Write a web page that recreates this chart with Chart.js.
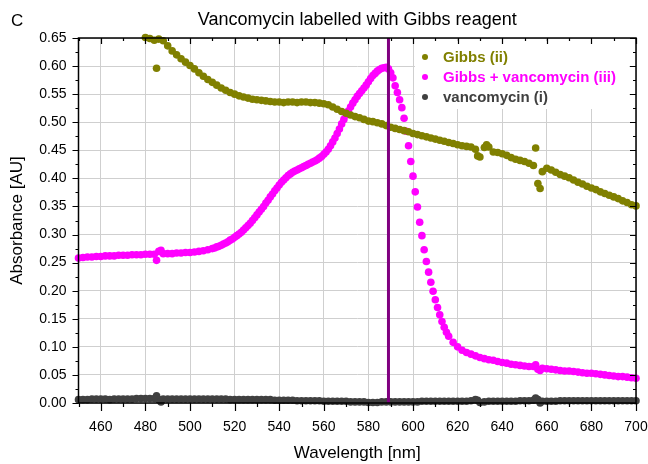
<!DOCTYPE html>
<html>
<head>
<meta charset="utf-8">
<script src="https://cdn.jsdelivr.net/npm/chart.js@4"></script>
<style>
html, body { margin: 0; padding: 0; background: #fff; }
#wrap { width: 648px; height: 464px; }
</style>
</head>
<body>
<div id="wrap"><canvas id="chart"></canvas></div>
<script>
const titleText = "Vancomycin labelled with Gibbs reagent"
const panelLetter = "C"
const xTicks = [460, 480, 500, 520, 540, 560, 580, 600, 620, 640, 660, 680, 700]
const yTicks = [0, 0.05, 0.1, 0.15, 0.2, 0.25, 0.3, 0.35, 0.4, 0.45, 0.5, 0.55, 0.6, 0.65]
const markNm = 589

const gibbsNm = [480, 482, 484, 485, 486, 488, 490, 492, 494, 496, 498, 500, 502, 504, 506, 508, 510, 512, 514, 516, 518, 520, 522, 524, 526, 528, 530, 532, 534, 536, 538, 540, 542, 544, 546, 548, 550, 552, 554, 556, 558, 560, 562, 564, 566, 568, 570, 572, 574, 576, 578, 580, 582, 584, 586, 588, 590, 592, 594, 596, 598, 600, 602, 604, 606, 608, 610, 612, 614, 616, 618, 620, 622, 624, 626, 628, 629, 630, 632, 633, 634, 636, 638, 640, 642, 644, 646, 648, 650, 652, 654, 655, 656, 657, 658, 660, 662, 664, 666, 668, 670, 672, 674, 676, 678, 680, 682, 684, 686, 688, 690, 692, 694, 696, 698, 700]
const gibbsAbs = [0.651, 0.649, 0.646, 0.596, 0.648, 0.645, 0.636, 0.627, 0.620, 0.613, 0.607, 0.601, 0.595, 0.588, 0.582, 0.576, 0.571, 0.566, 0.561, 0.557, 0.553, 0.550, 0.547, 0.545, 0.543, 0.541, 0.540, 0.539, 0.538, 0.537, 0.536, 0.536, 0.535, 0.536, 0.536, 0.535, 0.536, 0.536, 0.535, 0.535, 0.534, 0.533, 0.531, 0.527, 0.523, 0.519, 0.516, 0.513, 0.510, 0.508, 0.505, 0.502, 0.501, 0.499, 0.497, 0.494, 0.491, 0.489, 0.487, 0.485, 0.483, 0.480, 0.478, 0.476, 0.474, 0.472, 0.470, 0.468, 0.466, 0.464, 0.462, 0.460, 0.458, 0.457, 0.456, 0.452, 0.440, 0.438, 0.455, 0.460, 0.456, 0.447, 0.446, 0.444, 0.441, 0.437, 0.434, 0.432, 0.430, 0.427, 0.423, 0.454, 0.391, 0.382, 0.412, 0.418, 0.415, 0.411, 0.407, 0.404, 0.401, 0.397, 0.393, 0.390, 0.386, 0.383, 0.380, 0.376, 0.373, 0.370, 0.367, 0.364, 0.360, 0.357, 0.353, 0.351]

const mixNm = [450, 452, 454, 456, 458, 460, 462, 464, 466, 468, 470, 472, 474, 476, 478, 480, 482, 484, 485, 486, 487, 488, 490, 492, 494, 496, 498, 500, 502, 504, 506, 508, 510, 511, 512, 513, 514, 515, 516, 517, 518, 519, 520, 521, 522, 523, 524, 525, 526, 527, 528, 529, 530, 531, 532, 533, 534, 535, 536, 537, 538, 539, 540, 541, 542, 543, 544, 545, 546, 547, 548, 549, 550, 551, 552, 553, 554, 555, 556, 557, 558, 559, 560, 561, 562, 563, 564, 565, 566, 567, 568, 569, 570, 571, 572, 573, 574, 575, 576, 577, 578, 579, 580, 581, 582, 583, 584, 585, 586, 587, 588, 589, 590, 591, 592, 593, 594, 595, 596, 597, 598, 599, 600, 601, 602, 603, 604, 605, 606, 607, 608, 609, 610, 611, 612, 613, 614, 615, 616, 618, 620, 622, 624, 626, 628, 630, 632, 634, 636, 638, 640, 642, 644, 646, 648, 650, 652, 654, 655, 656, 657, 658, 660, 662, 664, 666, 668, 670, 672, 674, 676, 678, 680, 682, 684, 686, 688, 690, 692, 694, 696, 698, 700]
const mixAbs = [0.258, 0.259, 0.260, 0.260, 0.261, 0.261, 0.262, 0.262, 0.262, 0.263, 0.263, 0.263, 0.264, 0.264, 0.264, 0.265, 0.265, 0.265, 0.254, 0.270, 0.272, 0.266, 0.266, 0.266, 0.267, 0.267, 0.268, 0.268, 0.269, 0.270, 0.271, 0.273, 0.275, 0.276, 0.278, 0.279, 0.281, 0.283, 0.285, 0.287, 0.290, 0.292, 0.295, 0.298, 0.301, 0.304, 0.308, 0.312, 0.316, 0.320, 0.325, 0.330, 0.335, 0.340, 0.345, 0.350, 0.356, 0.361, 0.367, 0.372, 0.378, 0.383, 0.388, 0.393, 0.397, 0.401, 0.405, 0.408, 0.411, 0.413, 0.415, 0.417, 0.419, 0.421, 0.423, 0.425, 0.427, 0.429, 0.431, 0.433, 0.436, 0.439, 0.443, 0.447, 0.452, 0.458, 0.465, 0.472, 0.480, 0.488, 0.497, 0.505, 0.513, 0.520, 0.527, 0.534, 0.540, 0.546, 0.551, 0.556, 0.561, 0.566, 0.572, 0.578, 0.583, 0.587, 0.591, 0.594, 0.596, 0.597, 0.598, 0.595, 0.588, 0.579, 0.565, 0.553, 0.540, 0.526, 0.507, 0.484, 0.458, 0.430, 0.404, 0.376, 0.349, 0.322, 0.298, 0.273, 0.252, 0.233, 0.215, 0.199, 0.184, 0.170, 0.157, 0.145, 0.135, 0.126, 0.119, 0.108, 0.100, 0.094, 0.090, 0.087, 0.084, 0.081, 0.079, 0.077, 0.076, 0.074, 0.072, 0.071, 0.069, 0.068, 0.067, 0.066, 0.065, 0.065, 0.068, 0.060, 0.058, 0.062, 0.061, 0.060, 0.059, 0.058, 0.057, 0.057, 0.056, 0.055, 0.054, 0.053, 0.053, 0.052, 0.051, 0.050, 0.049, 0.048, 0.047, 0.047, 0.046, 0.045, 0.044]

const vancoNm = [450, 452, 454, 456, 458, 460, 462, 464, 466, 468, 470, 472, 474, 476, 478, 480, 482, 484, 485, 486, 487, 488, 490, 492, 494, 496, 498, 500, 502, 504, 506, 508, 510, 512, 514, 516, 518, 520, 522, 524, 526, 528, 530, 532, 534, 536, 538, 540, 542, 544, 546, 548, 550, 552, 554, 556, 558, 560, 562, 564, 566, 568, 570, 572, 574, 576, 578, 580, 582, 584, 586, 588, 590, 592, 594, 596, 598, 600, 602, 604, 606, 608, 610, 612, 614, 616, 618, 620, 622, 624, 626, 628, 629, 630, 632, 634, 636, 638, 640, 642, 644, 646, 648, 650, 652, 654, 655, 656, 657, 658, 660, 662, 664, 666, 668, 670, 672, 674, 676, 678, 680, 682, 684, 686, 688, 690, 692, 694, 696, 698, 700]
const vancoAbs = [0.006, 0.006, 0.006, 0.007, 0.007, 0.007, 0.007, 0.006, 0.007, 0.007, 0.007, 0.007, 0.007, 0.008, 0.008, 0.008, 0.008, 0.008, 0.013, 0.006, 0.002, 0.007, 0.007, 0.007, 0.007, 0.007, 0.007, 0.007, 0.007, 0.007, 0.007, 0.007, 0.007, 0.007, 0.007, 0.007, 0.006, 0.006, 0.006, 0.006, 0.006, 0.006, 0.006, 0.006, 0.006, 0.006, 0.005, 0.005, 0.005, 0.005, 0.005, 0.004, 0.004, 0.004, 0.004, 0.004, 0.004, 0.003, 0.003, 0.003, 0.003, 0.003, 0.003, 0.002, 0.002, 0.002, 0.002, 0.001, 0.001, 0.001, 0.002, 0.002, 0.002, 0.002, 0.002, 0.002, 0.002, 0.002, 0.002, 0.003, 0.003, 0.003, 0.003, 0.003, 0.003, 0.003, 0.003, 0.003, 0.003, 0.003, 0.004, 0.006, 0.005, 0.001, 0.002, 0.003, 0.003, 0.003, 0.003, 0.003, 0.003, 0.003, 0.004, 0.004, 0.004, 0.005, 0.009, 0.006, 0.000, 0.003, 0.003, 0.003, 0.003, 0.004, 0.004, 0.004, 0.004, 0.004, 0.004, 0.004, 0.004, 0.004, 0.004, 0.004, 0.004, 0.004, 0.004, 0.004, 0.004, 0.004, 0.004]

const font = "'Liberation Sans', Arial, sans-serif"

function pts(nm, abs){
	return nm.map((x, i) => ({x: x, y: abs[i]}))
}

function ds(label, color, data){
	return {
		label: label,
		data: data,
		backgroundColor: color,
		borderColor: color,
		pointRadius: 3.8,
		pointBorderWidth: 0,
		showLine: false,
		clip: false
	}
}

const extras = {
	id: "extras",
	beforeDatasetsDraw(chart){
		const c = chart.ctx
		c.save()
		c.fillStyle = "#fff"
		c.fillRect(415, 41, 214, 68)
		c.font = "bold 15px " + font
		c.textBaseline = "middle"
		chart.data.datasets.forEach((d, i) => {
			const y = 57 + i * 20
			c.fillStyle = d.backgroundColor
			c.beginPath()
			c.arc(425, y, 3, 0, Math.PI * 2)
			c.fill()
			c.fillText(d.label, 443, y + 1)
		})
		c.restore()
	},
	afterDatasetsDraw(chart){
		const c = chart.ctx
		const a = chart.chartArea
		const xs = chart.scales.x
		const ys = chart.scales.y
		c.save()
		let mx = xs.getPixelForValue(markNm)
		c.strokeStyle = "#800080"
		c.lineWidth = 3
		c.beginPath()
		c.moveTo(mx, a.top)
		c.lineTo(mx, a.bottom)
		c.stroke()

		c.strokeStyle = "#000"
		c.lineWidth = 1.2
		c.beginPath()
		for(let v = 450; v <= 700; v += 10){
			let p = Math.round(xs.getPixelForValue(v)) + 0.5
			let major = xTicks.includes(v)
			c.moveTo(p, a.bottom); c.lineTo(p, a.bottom + (major ? 8 : 4))
			c.moveTo(p, a.top); c.lineTo(p, a.top + (major ? 6 : 3))
		}
		for(let k = 0; k <= 26; k++){
			let p = Math.round(ys.getPixelForValue(k * 0.025)) + 0.5
			let major = k % 2 == 0
			c.moveTo(a.left, p); c.lineTo(a.left - (major ? 6 : 3), p)
			c.moveTo(a.right, p); c.lineTo(a.right - (major ? 6 : 3), p)
		}
		c.stroke()
		c.lineWidth = 1.5
		c.strokeRect(a.left, a.top, a.right - a.left, a.bottom - a.top)

		c.fillStyle = "#000"
		c.textBaseline = "middle"
		c.font = "17px " + font
		c.textAlign = "left"
		c.fillText(panelLetter, 11, 21)
		c.font = "18px " + font
		c.textAlign = "center"
		c.fillText(titleText, (a.left + a.right) / 2, 20)
		c.restore()
	}
}

new Chart(document.querySelector("#chart"), {
	type: "scatter",
	data: {
		datasets: [
			ds("Gibbs (ii)", "#808000", pts(gibbsNm, gibbsAbs)),
			ds("Gibbs + vancomycin (iii)", "#ff00ff", pts(mixNm, mixAbs)),
			ds("vancomycin (i)", "#404040", pts(vancoNm, vancoAbs))
		]
	},
	options: {
		responsive: true,
		maintainAspectRatio: false,
		animation: false,
		layout: { padding: { left: 7, right: 0, top: 38, bottom: 0 } },
		plugins: {
			legend: { display: false },
			tooltip: { enabled: false }
		},
		scales: {
			x: {
				type: "linear",
				min: 450,
				max: 700,
				afterBuildTicks: s => { s.ticks = xTicks.map(v => ({value: v})) },
				afterFit: s => { s.height = 61; s.paddingLeft = 0; s.paddingRight = 12 },
				border: { display: false },
				grid: { color: "#cfcfcf", lineWidth: 1, drawTicks: false },
				ticks: { color: "#000", font: { family: font, size: 14 }, padding: 16, maxRotation: 0 },
				title: { display: true, text: "Wavelength [nm]", color: "#000", font: { family: font, size: 17 }, padding: { top: 0, bottom: 0 } }
			},
			y: {
				min: 0,
				max: 0.65,
				afterBuildTicks: s => { s.ticks = yTicks.map(v => ({value: v})) },
				afterFit: s => { s.width = 71.5 },
				border: { display: false },
				grid: { color: "#cfcfcf", lineWidth: 1, drawTicks: false },
				ticks: { color: "#000", font: { family: font, size: 14 }, padding: 12, callback: v => v.toFixed(2) },
				title: { display: true, text: "Absorbance [AU]", color: "#000", font: { family: font, size: 17 }, padding: { top: 0, bottom: 0 } }
			}
		}
	},
	plugins: [extras]
})
</script>
</body>
</html>
